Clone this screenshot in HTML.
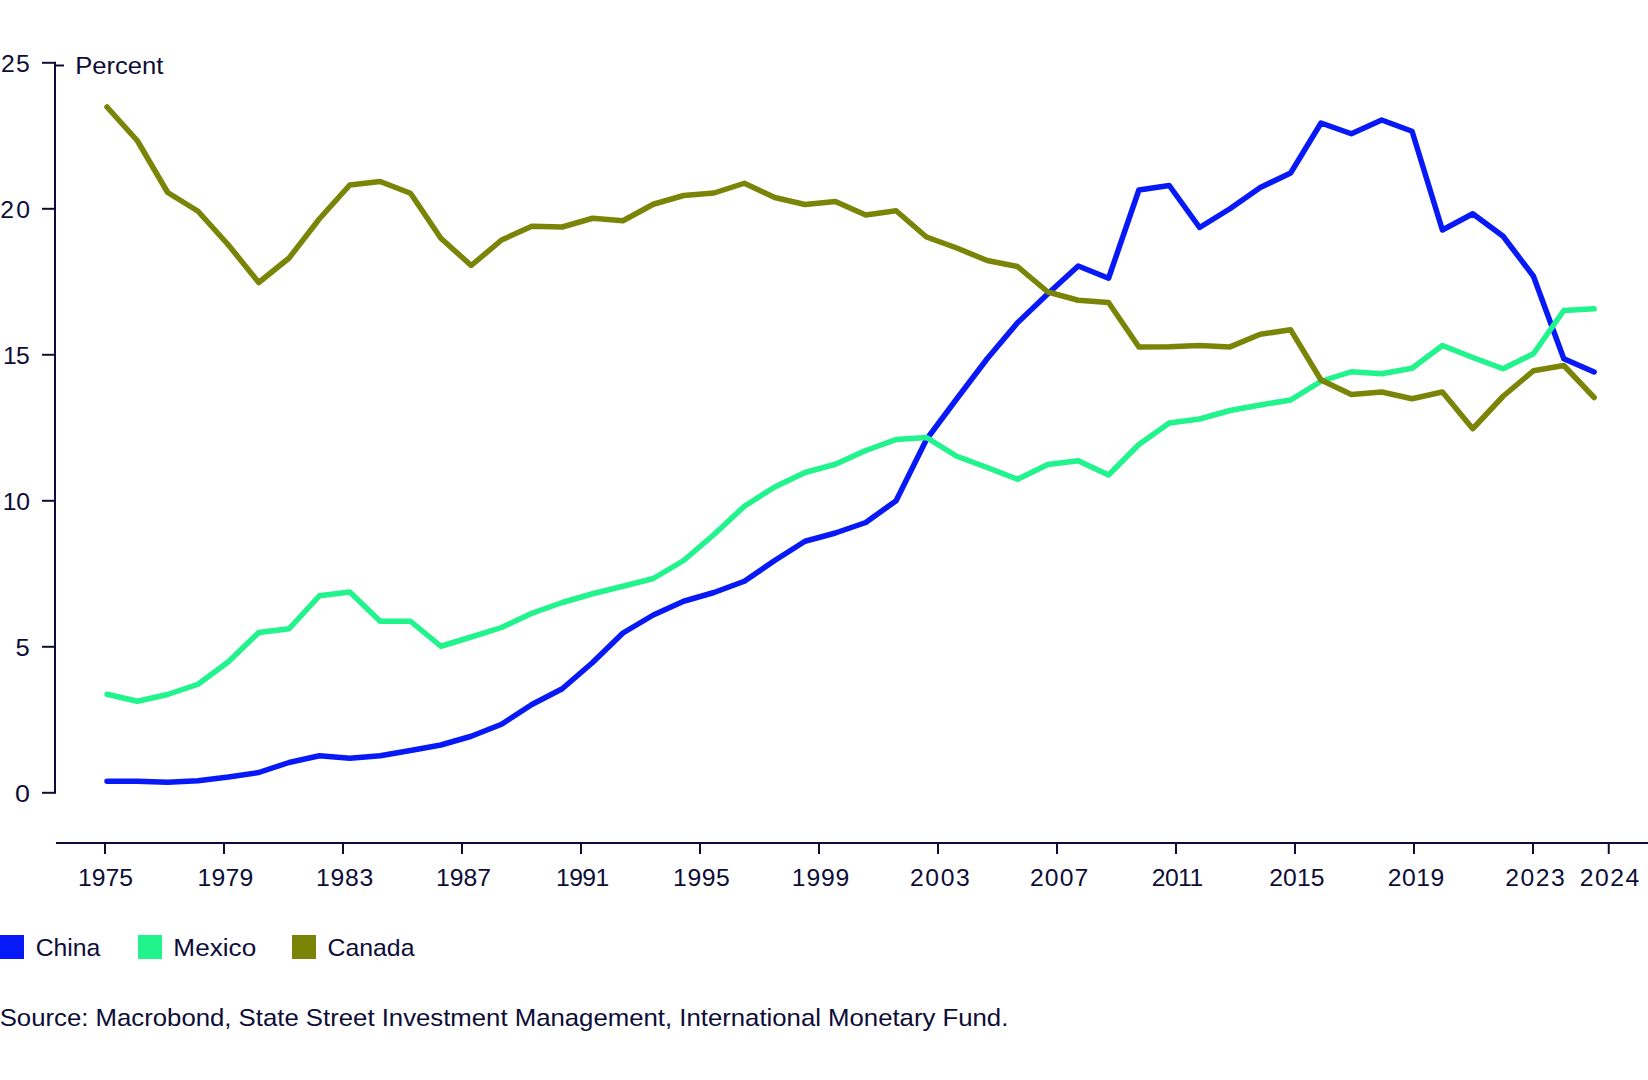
<!DOCTYPE html>
<html lang="en">
<head>
<meta charset="utf-8">
<title>Share of imports: China, Mexico, Canada</title>
<style>
html,body{margin:0;padding:0;background:#fff;}
body{width:1648px;height:1080px;overflow:hidden;position:relative;font-family:"Liberation Sans", sans-serif;color:#0d0d38;}
svg{position:absolute;left:0;top:0;display:block;}
svg text{font-family:"Liberation Sans", sans-serif;font-size:24px;fill:#0d0d38;}
.ax{stroke:#0d0d38;stroke-width:2;fill:none;}
.ln{fill:none;stroke-width:5.5;stroke-linecap:round;stroke-linejoin:round;}
</style>
</head>
<body>
<svg width="1648" height="1080" viewBox="0 0 1648 1080">
<rect x="0" y="0" width="1648" height="1080" fill="#ffffff"/>
<g id="y-axis">
<path class="ax" d="M55 61.80 V793.80"/>
<path class="ax" d="M42 62.80 H55"/>
<text transform="translate(0.95 72.10) scale(1.0300 1)" x="0" y="0" letter-spacing="1.352">25</text>
<path class="ax" d="M42 208.80 H55"/>
<text transform="translate(0.37 218.10) scale(1.0300 1)" x="0" y="0" letter-spacing="2.191">20</text>
<path class="ax" d="M42 354.80 H55"/>
<text transform="translate(3.06 364.10) scale(1.0300 1)" x="0" y="0" letter-spacing="-0.712">15</text>
<path class="ax" d="M42 500.80 H55"/>
<text transform="translate(2.80 510.10) scale(1.0300 1)" x="0" y="0" letter-spacing="-0.181">10</text>
<path class="ax" d="M42 646.80 H55"/>
<text transform="translate(15.61 656.10) scale(1.0662 1)" x="0" y="0">5</text>
<path class="ax" d="M42 792.80 H55"/>
<text transform="translate(15.04 802.10) scale(1.1194 1)" x="0" y="0">0</text>
<path class="ax" d="M55 65.5 H64"/>
<text transform="translate(75.14 74.00) scale(1.0681 1)" x="0" y="0">Percent</text>
</g>
<g id="x-axis">
<path class="ax" d="M56 843 H1648"/>
<path class="ax" d="M105 843 V854"/>
<text transform="translate(78.06 885.60) scale(1.0300 1)" x="0" y="0" letter-spacing="0.004">1975</text>
<path class="ax" d="M224 843 V854"/>
<text transform="translate(197.55 885.60) scale(1.0300 1)" x="0" y="0" letter-spacing="0.210">1979</text>
<path class="ax" d="M343 843 V854"/>
<text transform="translate(316.06 885.60) scale(1.0300 1)" x="0" y="0" letter-spacing="0.690">1983</text>
<path class="ax" d="M462 843 V854"/>
<text transform="translate(436.06 885.60) scale(1.0300 1)" x="0" y="0" letter-spacing="-0.020">1987</text>
<path class="ax" d="M581 843 V854"/>
<text transform="translate(556.06 885.60) scale(1.0300 1)" x="0" y="0" letter-spacing="-0.593">1991</text>
<path class="ax" d="M700 843 V854"/>
<text transform="translate(673.06 885.60) scale(1.0300 1)" x="0" y="0" letter-spacing="0.577">1995</text>
<path class="ax" d="M819 843 V854"/>
<text transform="translate(791.85 885.60) scale(1.0300 1)" x="0" y="0" letter-spacing="0.769">1999</text>
<path class="ax" d="M938 843 V854"/>
<text transform="translate(909.95 885.60) scale(1.0300 1)" x="0" y="0" letter-spacing="1.585">2003</text>
<path class="ax" d="M1057 843 V854"/>
<text transform="translate(1029.95 885.60) scale(1.0300 1)" x="0" y="0" letter-spacing="1.076">2007</text>
<path class="ax" d="M1176 843 V854"/>
<text transform="translate(1151.71 885.60) scale(1.0300 1)" x="0" y="0" letter-spacing="-0.556">2011</text>
<path class="ax" d="M1295 843 V854"/>
<text transform="translate(1269.26 885.60) scale(1.0300 1)" x="0" y="0" letter-spacing="0.106">2015</text>
<path class="ax" d="M1414 843 V854"/>
<text transform="translate(1387.71 885.60) scale(1.0300 1)" x="0" y="0" letter-spacing="0.489">2019</text>
<path class="ax" d="M1533 843 V854"/>
<text transform="translate(1505.26 885.60) scale(1.0300 1)" x="0" y="0" letter-spacing="1.425">2023</text>
<path class="ax" d="M1608.75 843 V854"/>
<text transform="translate(1579.71 885.60) scale(1.0300 1)" x="0" y="0" letter-spacing="1.464">2024</text>
</g>
<g id="series">
<polyline class="ln" stroke="#0719f6" points="107.00,781.25 137.35,781.25 167.70,782.25 198.05,780.75 228.40,777.00 258.75,772.50 289.10,762.50 319.45,755.75 349.80,758.25 380.15,755.75 410.50,750.50 440.85,745.00 471.20,736.25 501.55,724.25 531.90,704.50 562.25,688.75 592.60,662.50 622.95,633.00 653.30,615.00 683.65,601.25 714.00,592.50 744.35,581.25 774.70,560.50 805.05,541.25 835.40,533.00 865.75,522.50 896.10,500.75 926.45,439.50 956.80,398.75 987.15,358.75 1017.50,322.75 1047.85,293.75 1078.20,266.00 1108.55,278.25 1138.90,190.00 1169.25,185.50 1199.60,227.50 1229.95,208.75 1260.30,187.50 1290.65,173.00 1321.00,123.00 1351.35,133.75 1381.70,120.00 1412.05,131.25 1442.40,230.00 1472.75,213.75 1503.10,236.25 1533.45,276.25 1563.80,358.75 1594.15,372.00"/>
<polyline class="ln" stroke="#21f38d" points="107.00,694.25 137.35,701.25 167.70,694.50 198.05,684.25 228.40,661.75 258.75,632.50 289.10,628.75 319.45,595.75 349.80,592.00 380.15,621.25 410.50,621.25 440.85,646.25 471.20,637.00 501.55,627.50 531.90,613.25 562.25,602.50 592.60,593.75 622.95,586.25 653.30,578.50 683.65,560.50 714.00,534.50 744.35,506.25 774.70,487.00 805.05,472.50 835.40,464.25 865.75,450.50 896.10,439.50 926.45,437.50 956.80,456.25 987.15,467.50 1017.50,479.25 1047.85,464.50 1078.20,460.75 1108.55,475.00 1138.90,444.50 1169.25,423.00 1199.60,419.00 1229.95,410.50 1260.30,405.00 1290.65,400.00 1321.00,381.25 1351.35,371.75 1381.70,373.75 1412.05,368.25 1442.40,345.50 1472.75,357.50 1503.10,368.75 1533.45,353.75 1563.80,310.50 1594.15,308.75"/>
<polyline class="ln" stroke="#7a8407" points="107.00,107.00 137.35,140.75 167.70,192.50 198.05,211.25 228.40,245.00 258.75,282.50 289.10,258.00 319.45,218.75 349.80,185.00 380.15,181.50 410.50,193.25 440.85,238.25 471.20,265.50 501.55,240.00 531.90,226.25 562.25,227.00 592.60,218.25 622.95,220.75 653.30,204.25 683.65,195.50 714.00,193.00 744.35,183.25 774.70,197.50 805.05,204.50 835.40,201.50 865.75,215.00 896.10,210.75 926.45,237.00 956.80,248.00 987.15,260.50 1017.50,266.50 1047.85,292.00 1078.20,300.25 1108.55,302.50 1138.90,347.00 1169.25,346.80 1199.60,345.60 1229.95,346.90 1260.30,334.30 1290.65,329.80 1321.00,380.00 1351.35,394.50 1381.70,392.00 1412.05,398.75 1442.40,392.00 1472.75,428.75 1503.10,396.25 1533.45,370.75 1563.80,365.50 1594.15,397.50"/>
</g>
<g id="legend">
<rect x="0" y="935" width="24" height="24" fill="#0719f6"/>
<text transform="translate(35.70 955.60) scale(1.0314 1)" x="0" y="0">China</text>
<rect x="138" y="935" width="24" height="24" fill="#21f38d"/>
<text transform="translate(173.37 955.60) scale(1.0904 1)" x="0" y="0">Mexico</text>
<rect x="292" y="935" width="24" height="24" fill="#7a8407"/>
<text transform="translate(327.53 955.60) scale(1.0340 1)" x="0" y="0">Canada</text>
</g>
<text transform="translate(-0.30 1025.60) scale(1.0733 1)" x="0" y="0">Source: Macrobond, State Street Investment Management, International Monetary Fund.</text>
</svg>
</body>
</html>
